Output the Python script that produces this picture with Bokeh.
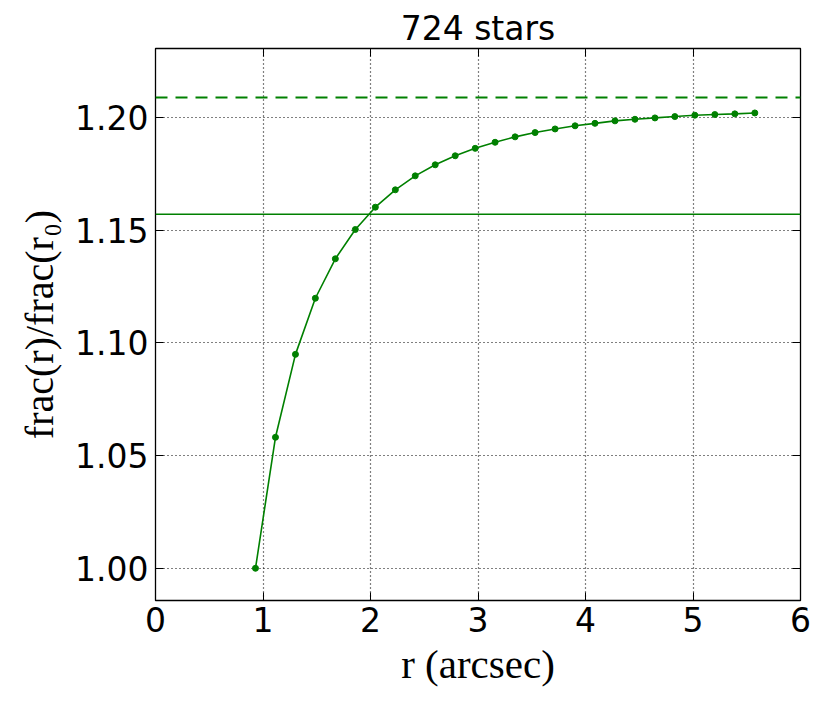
from bokeh.plotting import figure
from bokeh.models import (Span, LinearAxis, SingleIntervalTicker, NumeralTickFormatter,
                          CustomJSTickFormatter, Range1d)
from bokeh.embed import file_html
from bokeh.resources import INLINE

title_text = "724 stars"
x_label = "r (arcsec)"
y_label = "frac(r)/frac(r\u2080)"

r_arcsec = [0.930, 1.116, 1.302, 1.487, 1.673, 1.859, 2.045, 2.231, 2.416, 2.602,
            2.788, 2.974, 3.159, 3.345, 3.531, 3.717, 3.903, 4.088, 4.274, 4.460,
            4.646, 4.831, 5.017, 5.203, 5.389, 5.575]
frac_ratio = [1.0000, 1.0581, 1.0949, 1.1198, 1.1373, 1.1503, 1.1602, 1.1679, 1.1741, 1.1790,
              1.1830, 1.1863, 1.1890, 1.1914, 1.1933, 1.1949, 1.1963, 1.1974, 1.1985, 1.1992,
              1.1998, 1.2004, 1.2010, 1.2013, 1.2016, 1.2020]
asymptote_level = 1.2089
half_level = 1.1571

x_limits = (0, 6)
y_limits = (0.9857, 1.2306)
x_tick_step = 1
y_tick_step = 0.05

GREEN = "#008000"

p = figure(width=822, height=704, output_backend="svg", toolbar_location=None,
           x_range=Range1d(*x_limits), y_range=Range1d(*y_limits),
           min_border_left=155, min_border_right=22, min_border_top=48, min_border_bottom=104,
           background_fill_color="white", border_fill_color="white")

p.title.text = title_text
p.title.align = "center"
p.title.text_font = "DejaVu Sans"
p.title.text_font_size = "33px"
p.title.text_font_style = "normal"
p.title.text_color = "black"
p.title.standoff = 2

p.outline_line_color = "black"
p.outline_line_width = 1.3
p.outline_line_alpha = 1.0

# main axes
for ax in (p.xaxis[0], p.yaxis[0]):
    ax.major_tick_in = 8
    ax.major_tick_out = 0
    ax.minor_tick_in = 0
    ax.minor_tick_out = 0
    ax.major_tick_line_color = "black"
    ax.axis_line_color = "black"
    ax.major_label_text_font = "DejaVu Sans"
    ax.major_label_text_font_size = "33px"
    ax.major_label_text_color = "black"
    ax.axis_label_text_font = "Liberation Serif"
    ax.axis_label_text_font_style = "normal"
    ax.axis_label_text_color = "black"

p.xaxis[0].ticker = SingleIntervalTicker(interval=x_tick_step)
p.yaxis[0].ticker = SingleIntervalTicker(interval=y_tick_step)
p.yaxis[0].formatter = NumeralTickFormatter(format="0.00")
p.xaxis[0].major_label_standoff = 6
p.yaxis[0].major_label_standoff = 7
p.xaxis[0].axis_label = x_label
p.yaxis[0].axis_label = y_label
p.xaxis[0].axis_label_text_font_size = "41px"
p.yaxis[0].axis_label_text_font_size = "40px"
p.xaxis[0].axis_label_standoff = 6
p.yaxis[0].axis_label_standoff = 10

# mirror axes with inward ticks, no labels
blank = CustomJSTickFormatter(code="return '';")
top_ax = LinearAxis(ticker=SingleIntervalTicker(interval=x_tick_step), formatter=blank)
right_ax = LinearAxis(ticker=SingleIntervalTicker(interval=y_tick_step), formatter=blank)
for ax in (top_ax, right_ax):
    ax.major_tick_in = 8
    ax.major_tick_out = 0
    ax.minor_tick_in = 0
    ax.minor_tick_out = 0
    ax.major_label_standoff = 0
    ax.major_label_text_font_size = "1px"
    ax.axis_line_color = "black"
    ax.major_tick_line_color = "black"
p.add_layout(top_ax, "above")
p.add_layout(right_ax, "right")

# grid
for g in (p.xgrid[0], p.ygrid[0]):
    g.grid_line_color = "black"
    g.grid_line_alpha = 1.0
    g.grid_line_dash = "1 3"
    g.grid_line_width = 1.2
p.xgrid[0].ticker = p.xaxis[0].ticker
p.ygrid[0].ticker = p.yaxis[0].ticker

# reference levels
p.add_layout(Span(location=asymptote_level, dimension="width", line_color=GREEN,
                  line_width=2, line_dash="12 8"))
p.add_layout(Span(location=half_level, dimension="width", line_color=GREEN,
                  line_width=1.5))

# curve
p.line(r_arcsec, frac_ratio, line_color=GREEN, line_width=1.6)
p.scatter(r_arcsec, frac_ratio, size=6, fill_color=GREEN, line_color=GREEN)

open("out.html", "w").write(file_html(p, INLINE))
